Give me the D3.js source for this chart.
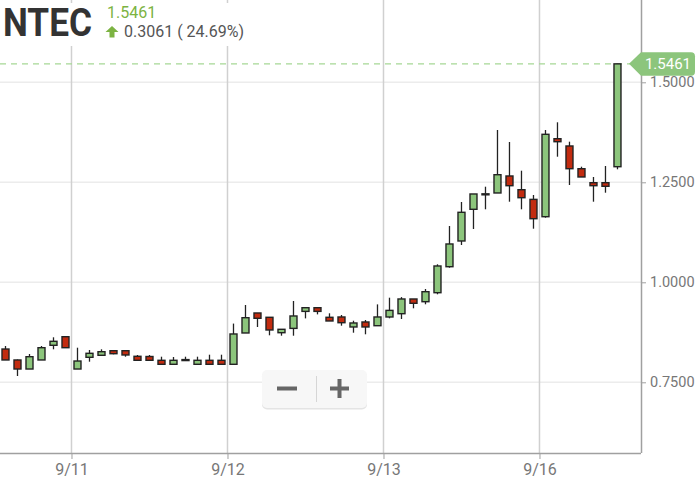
<!DOCTYPE html>
<html><head><meta charset="utf-8">
<script src="https://cdn.jsdelivr.net/npm/d3@7/dist/d3.min.js"></script>
<style>html,body{margin:0;padding:0;background:#fff;}svg{display:block;font-family:Roboto,"Noto Sans",sans-serif;}</style>
</head><body>
<svg id="chart" width="699" height="493"></svg>
<script>
// ---- data (30-minute bars, 9/10 tail through 9/16) ----
const dayLabels = ["9/11", "9/12", "9/13", "9/16"];
const dayStartIndex = [6, 19, 32, 45];
const yTicks = [0.75, 1.0, 1.25, 1.5];
const opens  = [0.8332,0.8058,0.7832,0.8058,0.8425,0.8640,
  0.7832,0.8125,0.8175,0.8290,0.8290,0.8150,0.8145,0.8050,0.7950,0.8068,0.7950,0.8050,0.8050,
  0.7950,0.8733,0.9233,0.9125,0.8740,0.8848,0.9273,0.9365,0.9125,0.9133,0.8883,0.9008,0.8915,
  0.9133,0.9215,0.9583,0.9515,0.9740,1.0390,1.1033,1.1825,1.2205,1.2233,1.2658,1.2315,1.2073,
  1.1640,1.3590,1.3408,1.2840,1.2490,1.2490,1.2890];
const highs  = [0.8408,0.8070,0.8207,0.8408,0.8625,0.8640,
  0.8365,0.8308,0.8325,0.8300,0.8290,0.8183,0.8183,0.8140,0.8133,0.8140,0.8140,0.8190,0.8190,
  0.8968,0.9433,0.9233,0.9125,0.8825,0.9533,0.9365,0.9365,0.9225,0.9183,0.9040,0.9058,0.9448,
  0.9615,0.9630,0.9583,0.9832,1.0450,1.1408,1.2008,1.2208,1.2390,1.3808,1.3508,1.2790,1.2183,
  1.3808,1.4000,1.3515,1.2890,1.2633,1.2908,1.5461];
const lows   = [0.8058,0.7658,0.7832,0.8058,0.8325,0.8365,
  0.7832,0.8015,0.8158,0.8200,0.8140,0.8050,0.8050,0.7950,0.7950,0.8060,0.7950,0.7950,0.7950,
  0.7950,0.8733,0.8883,0.8675,0.8665,0.8665,0.9098,0.9198,0.9033,0.8915,0.8740,0.8700,0.8915,
  0.9100,0.9083,0.9350,0.9450,0.9700,1.0365,1.0933,1.1333,1.1825,1.2233,1.2015,1.1825,1.1340,
  1.1615,1.3140,1.2433,1.2633,1.2015,1.2240,1.2825];
const closes = [0.8058,0.7832,0.8140,0.8365,0.8525,0.8365,
  0.8032,0.8225,0.8265,0.8215,0.8183,0.8050,0.8050,0.7950,0.8050,0.8062,0.8050,0.7950,0.7950,
  0.8708,0.9115,0.9100,0.8808,0.8825,0.9158,0.9365,0.9273,0.9033,0.8990,0.8983,0.8883,0.9133,
  0.9298,0.9583,0.9475,0.9765,1.0408,1.0958,1.1750,1.2208,1.2212,1.2690,1.2415,1.2115,1.1590,
  1.3700,1.3515,1.2840,1.2633,1.2415,1.2400,1.5461];
const ticker = "NTEC";
const lastPrice = 1.5461;
const change = 0.3061;
const changePct = 24.69;

const bars = opens.map((o, i) => ({i, o, h: highs[i], l: lows[i], c: closes[i]}));

// ---- layout ----
const svg = d3.select("#chart");
const plotR = 641, plotB = 453;
const x = d3.scaleLinear().domain([-0.458, 52.96]).range([0, plotR]);
const y = d3.scaleLinear().domain([0.57325, 1.70575]).range([plotB, 0]);

const green = "#8cc57c", red = "#c22b0f", stroke = "#222";

// horizontal grid
svg.append("g").selectAll("line").data(yTicks).join("line")
  .attr("x1", 0).attr("x2", plotR)
  .attr("y1", d => y(d)).attr("y2", d => y(d))
  .attr("stroke", "#ececec").attr("stroke-width", 1.5);

// vertical day grid
svg.append("g").selectAll("line").data(dayStartIndex).join("line")
  .attr("x1", d => x(d - 0.5)).attr("x2", d => x(d - 0.5))
  .attr("y1", 0).attr("y2", plotB)
  .attr("stroke", "#d0d0d0").attr("stroke-width", 1.5);

// header backdrop
svg.append("rect").attr("x", 0).attr("y", 3).attr("width", 258).attr("height", 43).attr("fill", "#fff");

// last price dashed line
svg.append("line").attr("x1", 0).attr("x2", 630)
  .attr("y1", y(lastPrice)).attr("y2", y(lastPrice))
  .attr("stroke", "#a6d895").attr("stroke-width", 1.3).attr("stroke-dasharray", "6,5");

// candles
const bw = 7;
const cg = svg.append("g");
cg.selectAll("line.wick").data(bars).join("line").attr("class", "wick")
  .attr("x1", d => x(d.i)).attr("x2", d => x(d.i))
  .attr("y1", d => y(d.h)).attr("y2", d => y(d.l))
  .attr("stroke", stroke).attr("stroke-width", 1.3);
cg.selectAll("rect.body").data(bars).join("rect").attr("class", "body")
  .attr("x", d => x(d.i) - bw / 2)
  .attr("y", d => y(Math.max(d.o, d.c)))
  .attr("width", bw)
  .attr("height", d => Math.max(1, Math.abs(y(d.o) - y(d.c))))
  .attr("fill", d => d.c >= d.o ? green : red)
  .attr("stroke", stroke).attr("stroke-width", 1.4);

// right axis
const yAxis = d3.axisRight(y).tickValues(yTicks).tickFormat(d3.format(".4f")).tickSize(5).tickPadding(4);
const ya = svg.append("g").attr("transform", `translate(${plotR},0)`).call(yAxis);
ya.select(".domain").attr("d", `M0.5,0V${plotB}`).attr("stroke", "#a0a0a0").attr("stroke-width", 1.5);
ya.selectAll(".tick line").attr("stroke", "#a0a0a0");
ya.selectAll(".tick text").attr("fill", "#777").style("font-size", "14.5px").style("font-family", "Roboto");

// bottom axis
const xAxis = d3.axisBottom(x).tickValues(dayStartIndex.map(d => d - 0.5))
  .tickFormat((d, k) => dayLabels[k]).tickSize(6).tickPadding(5);
const xa = svg.append("g").attr("transform", `translate(0,${plotB})`).call(xAxis);
xa.select(".domain").attr("d", `M0,0.5H${plotR}`).attr("stroke", "#a0a0a0").attr("stroke-width", 1.5);
xa.selectAll(".tick line").attr("stroke", "#a0a0a0");
xa.selectAll(".tick text").attr("fill", "#777").style("font-size", "16px").style("font-family", "Roboto");

// last price tag
const ly = y(lastPrice);
const tag = svg.append("g");
tag.append("path")
  .attr("d", `M629,${ly} L641,${ly - 11.5} H691 Q695,${ly - 11.5} 695,${ly - 7.5} V${ly + 8} Q695,${ly + 12} 691,${ly + 12} H641 Z`)
  .attr("fill", "#8cc57c");
tag.append("text").attr("x", 668).attr("y", ly + 5.5).attr("text-anchor", "middle")
  .attr("fill", "#fff").style("font-size", "15px").text(d3.format(".4f")(lastPrice));

// zoom control
const zc = svg.append("g");
zc.append("rect").attr("x", 262).attr("y", 371.5).attr("width", 105).attr("height", 38).attr("rx", 5)
  .attr("fill", "#e4e4e4");
zc.append("rect").attr("x", 262).attr("y", 370).attr("width", 105).attr("height", 38).attr("rx", 5)
  .attr("fill", "#f7f7f7");
zc.append("rect").attr("x", 277).attr("y", 386.5).attr("width", 20).attr("height", 4).attr("fill", "#666");
zc.append("rect").attr("x", 330).attr("y", 386.5).attr("width", 19).attr("height", 4).attr("fill", "#666");
zc.append("rect").attr("x", 337.5).attr("y", 379).attr("width", 4).attr("height", 19).attr("fill", "#666");
zc.append("line").attr("x1", 316.5).attr("x2", 316.5).attr("y1", 376).attr("y2", 402)
  .attr("stroke", "#d6d6d6").attr("stroke-width", 1);

// header
svg.append("text").attr("x", 3).attr("y", 35.5).attr("fill", "#333")
  .style("font-size", "38px").style("font-weight", "700")
  .attr("textLength", 89).attr("lengthAdjust", "spacingAndGlyphs").text(ticker);
svg.append("text").attr("x", 107).attr("y", 18).attr("fill", "#7cb342")
  .style("font-size", "16px").text(d3.format(".4f")(lastPrice));
svg.append("path").attr("d", "M112,26 L118.5,32 H114.5 V37.5 H109.5 V32 H105.5 Z").attr("fill", "#7cb342");
svg.append("text").attr("x", 124).attr("y", 37).attr("fill", "#555")
  .style("font-size", "16px").text(`${d3.format(".4f")(change)} ( ${changePct.toFixed(2)}%)`);
</script>
</body></html>
